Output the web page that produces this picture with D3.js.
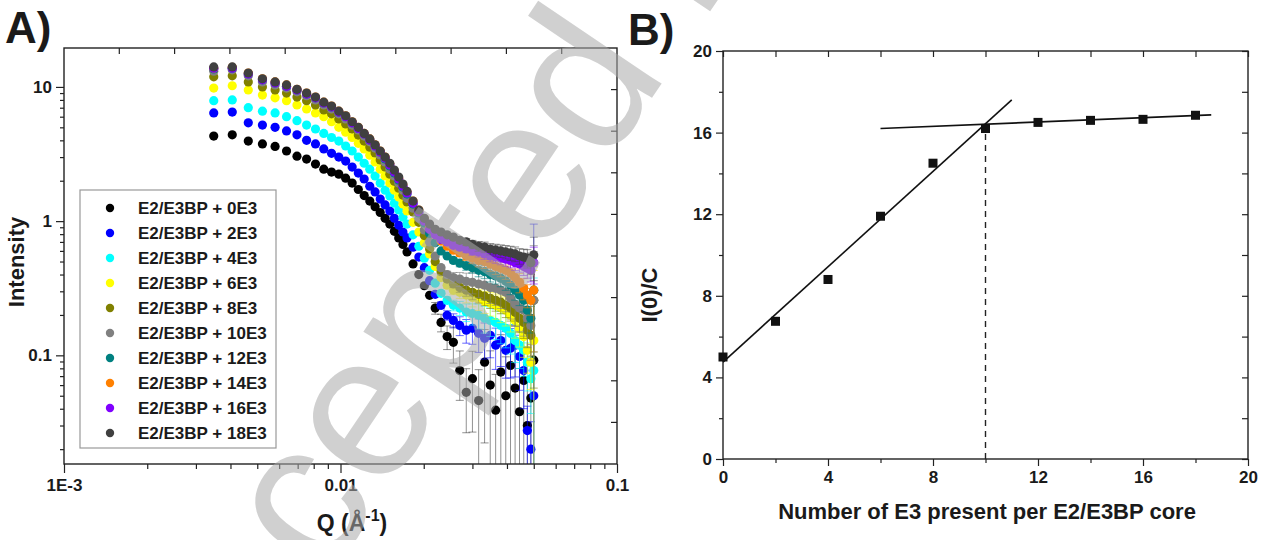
<!DOCTYPE html>
<html>
<head>
<meta charset="utf-8">
<script src="https://cdn.jsdelivr.net/npm/d3@7"></script>
<style>
  body { margin: 0; background: #fff; }
  text { font-family: "Liberation Sans", Arial, sans-serif; fill: #1a1a1a; }
</style>
</head>
<body>
<svg id="chart" width="1270" height="540"></svg>
<script>
// ---- panel A : SAXS curves ----
const q = [0.00348, 0.00406, 0.00464, 0.00522, 0.0058, 0.00638, 0.00696, 0.00754, 0.00812, 0.0087,
  0.00928, 0.00986, 0.01044, 0.01102, 0.0116, 0.01218, 0.01276, 0.01334, 0.01392, 0.0145,
  0.01508, 0.01566, 0.01624, 0.01682, 0.0174, 0.0183, 0.0192, 0.0201, 0.021, 0.022,
  0.0231, 0.0243, 0.0256, 0.027, 0.0285, 0.03, 0.0316, 0.0332, 0.0348, 0.0364,
  0.038, 0.0396, 0.0412, 0.0428, 0.0444, 0.046, 0.0474, 0.0488, 0.05];

const seriesNames = ["E2/E3BP + 0E3", "E2/E3BP + 2E3", "E2/E3BP + 4E3", "E2/E3BP + 6E3", "E2/E3BP + 8E3",
  "E2/E3BP + 10E3", "E2/E3BP + 12E3", "E2/E3BP + 14E3", "E2/E3BP + 16E3", "E2/E3BP + 18E3"];
const seriesColors = ["#000000", "#0000ff", "#00ffff", "#ffff00", "#808000",
  "#808080", "#008080", "#ff8000", "#8000ff", "#404040"];

const i0E3 = [4.3, 4.4, 3.95, 3.76, 3.6, 3.33, 3.05, 2.9, 2.66, 2.44, 2.32, 2.24, 2.09, 1.92, 1.72, 1.55, 1.41, 1.28, 1.16, 1.05,
  0.95, 0.84, 0.75, 0.67, 0.59, 0.48, 0.40, 0.33, 0.28, 0.225, 0.176, 0.138, 0.125, 0.077, 0.053, 0.067, 0.046, 0.089, 0.06, 0.039,
  0.075, 0.05, 0.084, 0.057, 0.038, 0.065, 0.030, 0.048, 0.092];
const i2E3 = [6.4, 6.5, 5.4, 5.2, 5.0, 4.7, 4.4, 4.0, 3.76, 3.45, 3.2, 3.0, 2.8, 2.53, 2.28, 2.06, 1.82, 1.65, 1.46, 1.32,
  1.19, 1.05, 0.93, 0.83, 0.75, 0.64, 0.54, 0.45, 0.36, 0.285, 0.236, 0.199, 0.182, 0.167, 0.154, 0.159, 0.146, 0.134, 0.141, 0.119,
  0.129, 0.109, 0.113, 0.119, 0.098, 0.077, 0.0275, 0.020, 0.05];
const i4E3 = [7.9, 8.0, 7.0, 6.6, 6.4, 6.0, 5.6, 5.2, 4.86, 4.5, 4.2, 3.95, 3.63, 3.33, 3.0, 2.7, 2.44, 2.17, 1.92, 1.70,
  1.54, 1.36, 1.21, 1.07, 0.95, 0.79, 0.65, 0.53, 0.43, 0.345, 0.29, 0.257, 0.236, 0.225, 0.21, 0.205, 0.199, 0.189, 0.182, 0.176,
  0.167, 0.159, 0.146, 0.129, 0.119, 0.109, 0.089, 0.067, 0.077];
const i6E3 = [9.8, 10.2, 9.5, 8.7, 8.3, 7.9, 7.34, 6.85, 6.4, 6.0, 5.5, 5.0, 4.6, 4.2, 3.8, 3.45, 3.1, 2.76, 2.44, 2.17,
  1.92, 1.70, 1.51, 1.34, 1.19, 0.98, 0.83, 0.69, 0.57, 0.46, 0.38, 0.333, 0.306, 0.295, 0.281, 0.27, 0.262, 0.252, 0.245, 0.236,
  0.226, 0.217, 0.199, 0.182, 0.159, 0.138, 0.109, 0.089, 0.129];
const i8E3 = [11.9, 12.1, 10.9, 10.0, 9.5, 9.0, 8.4, 7.9, 7.34, 6.73, 6.3, 5.78, 5.3, 4.86, 4.38, 3.95, 3.56, 3.22, 2.85, 2.53,
  2.24, 1.98, 1.76, 1.56, 1.39, 1.17, 0.98, 0.78, 0.62, 0.50, 0.42, 0.37, 0.34, 0.32, 0.306, 0.295, 0.285, 0.276, 0.266, 0.257,
  0.249, 0.236, 0.225, 0.209, 0.189, 0.176, 0.154, 0.141, 0.257];
const i10E3 = [13.1, 13.4, 12.1, 10.9, 10.35, 9.8, 9.2, 8.6, 8.0, 7.34, 6.85, 6.3, 5.78, 5.2, 4.78, 4.3, 3.9, 3.5, 3.11, 2.76,
  2.44, 2.17, 1.92, 1.70, 1.48, 1.25, 1.05, 0.86, 0.70, 0.55, 0.45, 0.40, 0.38, 0.37, 0.356, 0.35, 0.34, 0.333, 0.32, 0.316,
  0.306, 0.295, 0.266, 0.24, 0.225, 0.217, 0.189, 0.167, 0.257];
const i12E3 = [13.6, 13.8, 12.5, 11.3, 10.7, 10.1, 9.5, 8.85, 8.3, 7.6, 7.1, 6.5, 6.0, 5.4, 4.9, 4.46, 4.02, 3.63, 3.27, 2.9,
  2.57, 2.28, 2.02, 1.79, 1.59, 1.34, 1.15, 0.97, 0.81, 0.69, 0.60, 0.55, 0.51, 0.486, 0.465, 0.45, 0.43, 0.42, 0.40, 0.39,
  0.375, 0.356, 0.333, 0.306, 0.281, 0.257, 0.217, 0.189, 0.306];
const i14E3 = [13.8, 14.0, 12.7, 11.5, 10.9, 10.35, 9.6, 9.0, 8.4, 7.7, 7.2, 6.6, 6.1, 5.5, 5.0, 4.5, 4.1, 3.7, 3.33, 3.0,
  2.66, 2.36, 2.09, 1.86, 1.65, 1.41, 1.21, 1.04, 0.90, 0.79, 0.71, 0.65, 0.608, 0.58, 0.55, 0.53, 0.51, 0.50, 0.48, 0.46,
  0.445, 0.43, 0.41, 0.38, 0.35, 0.316, 0.281, 0.257, 0.306];
const i16E3 = [13.8, 13.8, 12.5, 11.3, 10.7, 10.1, 9.5, 8.85, 8.3, 7.6, 7.1, 6.5, 6.0, 5.4, 4.9, 4.46, 4.02, 3.63, 3.27, 2.95,
  2.62, 2.32, 2.06, 1.82, 1.62, 1.36, 1.17, 1.0, 0.87, 0.79, 0.73, 0.70, 0.66, 0.64, 0.62, 0.60, 0.59, 0.57, 0.55, 0.54,
  0.53, 0.52, 0.51, 0.49, 0.48, 0.46, 0.445, 0.43, 0.49];
const i18E3 = [14.1, 14.1, 12.7, 11.5, 10.9, 10.35, 9.6, 9.0, 8.4, 7.7, 7.2, 6.6, 6.1, 5.5, 5.0, 4.5, 4.1, 3.7, 3.33, 3.0,
  2.7, 2.4, 2.13, 1.89, 1.67, 1.41, 1.21, 1.05, 0.95, 0.87, 0.83, 0.79, 0.76, 0.72, 0.70, 0.67, 0.65, 0.64, 0.62, 0.61,
  0.60, 0.59, 0.58, 0.57, 0.55, 0.54, 0.53, 0.49, 0.56];
const intensities = [i0E3, i2E3, i4E3, i6E3, i8E3, i10E3, i12E3, i14E3, i16E3, i18E3];

// error bars: relative error per q point, scaled per series; last point read separately
const relErr = [0, 0, 0, 0, 0, 0, 0, 0, 0, 0, 0, 0, 0, 0, 0, 0, 0, 0, 0, 0,
  0, 0, 0, 0, 0, 0, 0, 0, 0, 0.1, 0.15, 0.2, 0.3, 0.4, 0.5, 0.6, 0.7, 0.75, 0.8, 0.85,
  0.9, 0.95, 1.0, 1.05, 1.1, 1.2, 1.3, 1.5, 0];
const errScale = [1.0, 0.4, 0.3, 0.25, 0.2, 0.3, 0.15, 0.15, 0.12, 0.12];
const lastErr = [0.5, 0.9, 0.3, 0.3, 0.2, 0.4, 0.2, 0.2, 0.15, 0.2];

const qTicks = [0.001, 0.01, 0.1];
const qTickLabels = ["1E-3", "0.01", "0.1"];
const iTicks = [0.1, 1, 10];
const iTickLabels = ["0.1", "1", "10"];

// ---- panel B : I(0)/C vs number of E3 ----
const e3Count = [0, 2, 4, 6, 8, 10, 12, 14, 16, 18];
const i0OverC = [5.0, 6.75, 8.8, 11.9, 14.5, 16.2, 16.5, 16.6, 16.65, 16.85];
const riseFitX = [0, 11.0], riseFitY = [4.75, 17.6];
const flatFitX = [6.0, 18.6], flatFitY = [16.2, 16.87];
const breakX = 10, breakY = 16.35;
const bMajor = [0, 4, 8, 12, 16, 20];
const bMinor = [2, 6, 10, 14, 18];

const svg = d3.select("#chart");
svg.append("rect").attr("width", 1270).attr("height", 540).attr("fill", "#fff");

// ================= panel A =================
const A = { x0: 64, x1: 617, y0: 48, y1: 464 };
const xA = d3.scaleLog().domain([0.001, 0.1]).range([A.x0, A.x1]);
const yA = d3.scaleLog().domain([0.0155, 19.5]).range([A.y1, A.y0]);

svg.append("defs").append("clipPath").attr("id", "clipA")
  .append("rect").attr("x", A.x0).attr("y", A.y0).attr("width", A.x1 - A.x0).attr("height", A.y1 - A.y0);

const gA = svg.append("g").attr("clip-path", "url(#clipA)");
intensities.forEach((vals, s) => {
  const pts = vals.map((v, i) => ({ q: q[i], v: v, e: i === vals.length - 1 ? lastErr[s] : relErr[i] * errScale[s] * v }));
  const g = gA.append("g");
  const eb = g.selectAll("g.eb").data(pts.filter(d => d.e > 0)).enter().append("g")
    .attr("stroke", seriesColors[s]).attr("stroke-width", 0.8).attr("stroke-opacity", s === 0 ? 0.55 : 0.75);
  eb.append("line")
    .attr("x1", d => xA(d.q)).attr("x2", d => xA(d.q))
    .attr("y1", d => yA(d.v + d.e)).attr("y2", d => d.v - d.e > 0.0155 ? yA(d.v - d.e) : A.y1 + 2);
  eb.append("line")
    .attr("x1", d => xA(d.q) - 4).attr("x2", d => xA(d.q) + 4)
    .attr("y1", d => yA(d.v + d.e)).attr("y2", d => yA(d.v + d.e));
  eb.filter(d => d.v - d.e > 0.0155).append("line")
    .attr("x1", d => xA(d.q) - 4).attr("x2", d => xA(d.q) + 4)
    .attr("y1", d => yA(d.v - d.e)).attr("y2", d => yA(d.v - d.e));
  g.selectAll("circle").data(pts).enter().append("circle")
    .attr("cx", d => xA(d.q)).attr("cy", d => yA(d.v)).attr("r", 4.6)
    .attr("fill", seriesColors[s]);
});

// axes A
function styleAxis(g, size) {
  g.select(".domain").remove();
  g.selectAll("line").attr("stroke", "#222").attr("stroke-width", 1.2);
  g.selectAll("text").style("font-size", size + "px").style("font-weight", "bold").attr("fill", "#1a1a1a");
}
svg.append("g").attr("transform", `translate(0,${A.y1})`)
  .call(d3.axisBottom(xA).tickValues(xA.ticks().filter(t => qTicks.indexOf(t) < 0)).tickSize(5).tickFormat(""))
  .call(g => styleAxis(g, 16));
svg.append("g").attr("transform", `translate(0,${A.y1})`)
  .call(d3.axisBottom(xA).tickValues(qTicks).tickSize(9).tickPadding(6).tickFormat((d, i) => qTickLabels[i]))
  .call(g => styleAxis(g, 17));
svg.append("g").attr("transform", `translate(${A.x0},0)`)
  .call(d3.axisLeft(yA).tickValues(yA.ticks().filter(t => iTicks.indexOf(t) < 0)).tickSize(4).tickFormat(""))
  .call(g => styleAxis(g, 16));
svg.append("g").attr("transform", `translate(${A.x0},0)`)
  .call(d3.axisLeft(yA).tickValues(iTicks).tickSize(8).tickPadding(4).tickFormat((d, i) => iTickLabels[i]))
  .call(g => styleAxis(g, 17));
// opposite axes: evenly spaced inward ticks
d3.range(1, 10).forEach(k => {
  const x = A.x0 + k * (A.x1 - A.x0) / 10, y = A.y0 + k * (A.y1 - A.y0) / 10;
  svg.append("line").attr("x1", x).attr("x2", x).attr("y1", A.y0).attr("y2", A.y0 + 6).attr("stroke", "#222").attr("stroke-width", 1.2);
  svg.append("line").attr("x1", A.x1 - 6).attr("x2", A.x1).attr("y1", y).attr("y2", y).attr("stroke", "#222").attr("stroke-width", 1.2);
});
svg.append("rect").attr("x", A.x0).attr("y", A.y0).attr("width", A.x1 - A.x0).attr("height", A.y1 - A.y0)
  .attr("fill", "none").attr("stroke", "#222").attr("stroke-width", 1.4);

// legend A
const leg = svg.append("g");
leg.append("rect").attr("x", 80).attr("y", 190).attr("width", 196).attr("height", 258)
  .attr("fill", "#fff").attr("stroke", "#999").attr("stroke-width", 1.2);
seriesNames.forEach((n, i) => {
  const y = 208 + i * 25;
  leg.append("circle").attr("cx", 110).attr("cy", y).attr("r", 4.2).attr("fill", seriesColors[i]);
  leg.append("text").attr("x", 138).attr("y", y + 6).text(n)
    .style("font-size", "17px").style("font-weight", "bold");
});

svg.append("text").attr("transform", "translate(24,262) rotate(-90)").attr("text-anchor", "middle")
  .style("font-size", "22px").style("font-weight", "bold").text("Intensity");
const qLab = svg.append("text").attr("x", 352).attr("y", 531).attr("text-anchor", "middle")
  .style("font-size", "23px").style("font-weight", "bold");
qLab.append("tspan").text("Q (Å");
qLab.append("tspan").attr("dy", -10).style("font-size", "16px").text("-1");
qLab.append("tspan").attr("dy", 10).text(")");

svg.append("text").attr("x", 5).attr("y", 43).style("font-size", "44px").style("font-weight", "bold").text("A)");

// ================= panel B =================
const B = { x0: 723, x1: 1248, y0: 51, y1: 459 };
const xB = d3.scaleLinear().domain([0, 20]).range([B.x0, B.x1]);
const yB = d3.scaleLinear().domain([0, 20]).range([B.y1, B.y0]);

svg.append("g").attr("transform", `translate(0,${B.y1})`)
  .call(d3.axisBottom(xB).tickValues(bMinor).tickSize(4).tickFormat(""))
  .call(g => styleAxis(g, 16));
svg.append("g").attr("transform", `translate(0,${B.y1})`)
  .call(d3.axisBottom(xB).tickValues(bMajor).tickSize(7).tickPadding(5))
  .call(g => styleAxis(g, 17));
svg.append("g").attr("transform", `translate(${B.x0},0)`)
  .call(d3.axisLeft(yB).tickValues(bMinor).tickSize(4).tickFormat(""))
  .call(g => styleAxis(g, 16));
svg.append("g").attr("transform", `translate(${B.x0},0)`)
  .call(d3.axisLeft(yB).tickValues(bMajor).tickSize(7).tickPadding(4))
  .call(g => styleAxis(g, 17));
svg.append("g").attr("transform", `translate(0,${B.y0})`)
  .call(d3.axisBottom(xB).tickValues(bMajor.concat(bMinor)).tickSize(6).tickFormat(""))
  .call(g => styleAxis(g, 16));
svg.append("g").attr("transform", `translate(${B.x1},0)`)
  .call(d3.axisLeft(yB).tickValues(bMajor.concat(bMinor)).tickSize(6).tickFormat(""))
  .call(g => styleAxis(g, 16));
svg.append("rect").attr("x", B.x0).attr("y", B.y0).attr("width", B.x1 - B.x0).attr("height", B.y1 - B.y0)
  .attr("fill", "none").attr("stroke", "#222").attr("stroke-width", 1.4);

const line = d3.line().x(d => xB(d[0])).y(d => yB(d[1]));
svg.append("path").attr("d", line(riseFitX.map((x, i) => [x, riseFitY[i]])))
  .attr("fill", "none").attr("stroke", "#111").attr("stroke-width", 1.6);
svg.append("path").attr("d", line(flatFitX.map((x, i) => [x, flatFitY[i]])))
  .attr("fill", "none").attr("stroke", "#111").attr("stroke-width", 1.6);
svg.append("path").attr("d", line([[breakX, 0], [breakX, breakY]]))
  .attr("fill", "none").attr("stroke", "#222").attr("stroke-width", 1.4).attr("stroke-dasharray", "6,5");

svg.append("g").selectAll("rect").data(e3Count).enter().append("rect")
  .attr("x", (d) => xB(d) - 4.5).attr("y", (d, i) => yB(i0OverC[i]) - 4.5)
  .attr("width", 9).attr("height", 9).attr("fill", "#111");

svg.append("text").attr("transform", "translate(657,295) rotate(-90)").attr("text-anchor", "middle")
  .style("font-size", "22px").style("font-weight", "bold").text("I(0)/C");
svg.append("text").attr("x", 987).attr("y", 519).attr("text-anchor", "middle")
  .style("font-size", "22px").style("font-weight", "bold").text("Number of E3 present per E2/E3BP core");
svg.append("text").attr("x", 628).attr("y", 45).style("font-size", "44px").style("font-weight", "bold").text("B)");

// watermark
svg.append("text").attr("transform", "translate(191,781) rotate(-56)")
  .style("font-size", "205px").style("fill", "#aaaaaa").style("fill-opacity", 0.55)
  .text("Accepted Manuscript");
</script>
</body>
</html>
